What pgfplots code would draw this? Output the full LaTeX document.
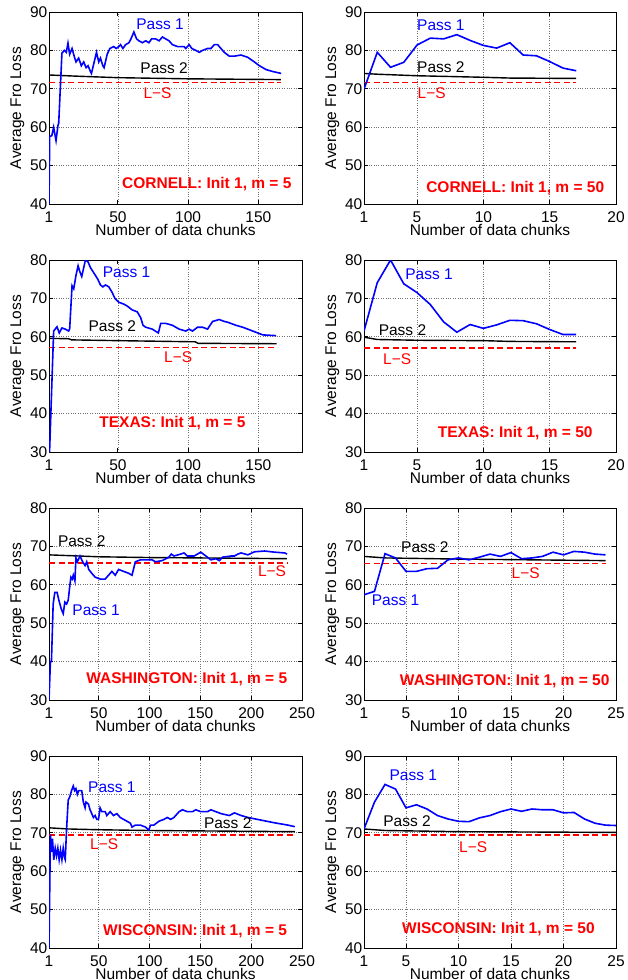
\documentclass[border=0pt]{standalone}
\usepackage{pgfplots}
\pgfplotsset{compat=1.18}
\usepackage{fontspec}
\setmainfont{Liberation Sans}
\newcommand{\fs}{\fontsize{15.5}{18}\selectfont}
\pgfplotsset{
  fro/.style={
    width=253pt, height=192pt, scale only axis, anchor=south west,
    axis line style={line width=0.8pt},
    tick align=inside, major tick length=4pt,
    every tick/.style={black, line width=0.8pt},
    grid=major, grid style={dotted, line width=0.7pt, black!55},
    ticklabel style={font=\fs},
    /pgf/number format/assume math mode=true,
    xlabel={Number of data chunks}, ylabel={Average Fro Loss},
    every axis y label/.style={at={(axis description cs:-0.125,0.5)}, rotate=90, anchor=center, font=\fs},
    every axis x label/.style={at={(axis description cs:0.5,0)}, anchor=base, yshift=-31.5pt, font=\fs, inner sep=0pt},
    xticklabel style={anchor=base, yshift=-18.5pt, inner sep=0pt},
    yticklabel style={anchor=east, inner sep=1.5pt},
    clip=true,
  },
  p1/.style={blue, line width=1.6pt},
  p2/.style={black, line width=1.4pt},
  ls/.style={red, line width=1.6pt, dash pattern=on 6pt off 3.5pt},
}
\tikzset{
  lab/.style={font=\fs},
  ann/.style={font=\fs\bfseries, red},
}
\begin{document}
\begin{tikzpicture}
\useasboundingbox (0,0) rectangle (627pt,-980pt);
% ---------- CORNELL m=5
\begin{axis}[fro, at={(49pt,-204pt)}, xmin=1, xmax=181, ymin=40, ymax=90,
  xtick={1,50,100,150}, ytick={40,50,...,90}]
\addplot[p2] coordinates {(1,73.6) (20,73.3) (50,72.9) (100,72.6) (166,72.4)};
\addplot[ls] coordinates {(1,71.6) (166,71.6)};
\addplot[p1] coordinates {(1,40) (1.5,57.6) (3,57.8) (4.3,60) (6,56.5) (7.4,60.5) (7.9,61) (10.2,79.3) (11.9,80) (13.3,79.5) (14.5,81.9) (15.7,79) (17.4,80.5) (19.3,78) (20.2,77) (22.1,78) (24,76) (25.7,77) (27.4,75.5) (28.8,76) (30.5,74.5) (31.2,74) (34.8,79.5) (36.4,77) (37.6,78) (39.3,76) (40.2,75.5) (42.4,79) (44.3,80.5) (47.1,81) (48.8,80.5) (50.7,81) (51.9,81.5) (53.6,80.5) (55.5,81.5) (57.9,82) (59.3,83) (61.4,84.8) (63.3,83) (65,82.5) (67.4,82) (69.8,82.5) (72.1,82) (74,83) (76.9,83) (79.3,82.5) (81.7,83.5) (84,83) (86.4,82.5) (88.8,81.5) (92.4,81) (97.1,81) (98.3,80.5) (100.7,81.5) (102.6,80.5) (105.5,80) (107.9,79.5) (110.2,80) (113.8,80.5) (116.2,80.5) (118.6,81.5) (121,81.5) (123.3,80.5) (125.7,79.5) (129.3,78.5) (132.9,78.5) (137.6,78.8) (142.4,78.2) (147.1,77) (150.7,76) (155.5,75) (160.2,74.5) (166.2,74)};
\node[lab, blue] at (axis cs:80,86.7) {Pass 1};
\node[lab] at (axis cs:82.9,75.4) {Pass 2};
\node[lab, red] at (axis cs:78.2,68.9) {L−S};
\node[ann] at (axis cs:113.3,45.1) {CORNELL: Init 1, m = 5};
\end{axis}
% ---------- CORNELL m=50
\begin{axis}[fro, at={(364pt,-204pt)}, width=252pt, xmin=1, xmax=20, ymin=40, ymax=90,
  xtick={1,5,10,15,20}, ytick={40,50,...,90}]
\addplot[p2] coordinates {(1,74.0) (2,73.8) (5,73.4) (10,73.0) (12,72.8) (17,72.7)};
\addplot[ls] coordinates {(1,71.6) (17,71.6)};
\addplot[p1] coordinates {(1,69.9) (2,79.5) (3,75.6) (4,76.9) (5,81.4) (6,83.2) (7,83.0) (8,84.1) (9,82.6) (10,81.3) (11,80.6) (12,82.0) (13,78.8) (14,78.6) (15,77.1) (16,75.4) (17,74.7)};
\node[lab, blue] at (axis cs:6.8,86.5) {Pass 1};
\node[lab] at (axis cs:6.8,75.6) {Pass 2};
\node[lab, red] at (axis cs:6.1,68.8) {L−S};
\node[ann] at (axis cs:12.4,44.1) {CORNELL: Init 1, m = 50};
\end{axis}
% ---------- TEXAS m=5
\begin{axis}[fro, at={(49pt,-452pt)}, xmin=1, xmax=181, ymin=30, ymax=80,
  xtick={1,50,100,150}, ytick={30,40,...,80}]
\addplot[p2] coordinates {(1,59.6) (15,59.5) (17,59.2) (50,59.0) (105,58.7) (107,58.3) (163,58.2)};
\addplot[ls] coordinates {(1,57.2) (163,57.2)};
\addplot[p1] coordinates {(1.4,30) (4.3,61.5) (6.7,62.6) (8.3,61) (10.2,62.3) (12.6,62) (15,61.5) (15.7,62) (17.4,73.3) (18.6,72.5) (20.2,76) (21.7,78.5) (22.9,77) (24.3,75.7) (26.9,80) (28.8,79.5) (30.5,78) (34,76) (35.7,75) (37.6,73.5) (39.3,73) (41.2,73.5) (43.6,73) (46,71.5) (47.9,70) (50.7,69) (54.3,68.5) (56.7,68) (60.2,67) (63.8,66.5) (66.2,65) (67.9,63) (69.8,62.5) (74.5,62) (78.8,61) (80.5,63.5) (84,63.5) (88.8,63) (93.6,62) (98.3,61.5) (100.7,62) (103.1,61.5) (106.7,62.5) (110.2,62.5) (113.8,62) (117.4,64) (122.1,64.5) (125.7,64) (128.1,63.8) (134,63) (138.8,62.5) (146,61.5) (153.1,60.5) (162.6,60.3)};
\node[lab, blue] at (axis cs:56.2,76.8) {Pass 1};
\node[lab] at (axis cs:46,62.8) {Pass 2};
\node[lab, red] at (axis cs:92.9,54.8) {L−S};
\node[ann] at (axis cs:88.8,37.6) {TEXAS: Init 1, m = 5};
\end{axis}
% ---------- TEXAS m=50
\begin{axis}[fro, at={(364pt,-452pt)}, width=252pt, xmin=1, xmax=20, ymin=30, ymax=80,
  xtick={1,5,10,15,20}, ytick={30,40,...,80}]
\addplot[p2] coordinates {(1,59.9) (2,59.3) (5,59.1) (10,59.0) (12,58.8) (17,58.7)};
\addplot[ls] coordinates {(1,57.1) (17,57.1)};
\addplot[p1] coordinates {(1,61.5) (2,74.1) (3,80.0) (4,73.8) (5,71.5) (6,68.4) (7,63.9) (8,61.2) (9,63.2) (10,62.2) (11,63.1) (12,64.3) (13,64.2) (14,63.4) (15,61.9) (16,60.6) (17,60.6)};
\node[lab, blue] at (axis cs:5.9,76.4) {Pass 1};
\node[lab] at (axis cs:3.9,61.7) {Pass 2};
\node[lab, red] at (axis cs:3.5,54.1) {L−S};
\node[ann] at (axis cs:12.4,35) {TEXAS: Init 1, m = 50};
\end{axis}
% ---------- WASHINGTON m=5
\begin{axis}[fro, at={(49pt,-700pt)}, xmin=1, xmax=250, ymin=30, ymax=80,
  xtick={1,50,100,150,200,250}, ytick={30,40,...,80}]
\addplot[p2] coordinates {(1,67.8) (50,67.3) (100,67.1) (150,67.0) (235,66.8)};
\addplot[ls] coordinates {(1,65.7) (235,65.7)};
\addplot[p1] coordinates {(1,30) (2.4,40) (3.4,40) (5.1,55) (6.7,58) (9,58) (10.7,56) (13.3,53.5) (15,52.5) (16.6,55.5) (18.3,55) (19.9,56) (21.6,60) (22.6,62) (23.9,61.5) (24.9,62.5) (26.5,61) (27.5,67) (28.9,66) (31.5,67.5) (34.1,66) (36.5,65) (38.1,66) (40.1,64) (43.1,63) (46.4,62) (51.3,61.5) (56.3,61.5) (59.6,62.5) (62.9,63.5) (66.2,62.5) (69.5,64) (74.4,63.5) (79.4,63) (82.7,62.5) (86,66) (91,66.5) (97.6,66.5) (102.5,66.5) (105.8,66) (112.4,66.3) (119,67.2) (121.4,68) (124,67.5) (130.6,68) (133.9,68.3) (137.2,67.5) (143.8,67.5) (150.4,68.5) (155.4,67.5) (160.3,66.5) (165.3,66.8) (168.6,66.3) (171.9,67.2) (180.2,67.5) (183.5,67.5) (186.8,68) (190.1,68.3) (196.7,67.8) (203.3,68.6) (213.2,68.8) (223.1,68.5) (233,68.3) (235.3,68)};
\node[lab] at (axis cs:33.2,71.3) {Pass 2};
\node[lab, blue] at (axis cs:47.4,53.3) {Pass 1};
\node[lab, red] at (axis cs:220.5,63.5) {L−S};
\node[ann] at (axis cs:136.6,35.4) {WASHINGTON: Init 1, m = 5};
\end{axis}
% ---------- WASHINGTON m=50
\begin{axis}[fro, at={(364pt,-700pt)}, width=252pt, xmin=1, xmax=25, ymin=30, ymax=80,
  xtick={1,5,10,15,20,25}, ytick={30,40,...,80}]
\addplot[p2] coordinates {(1,67.4) (3,67.0) (10,66.7) (24,66.3)};
\addplot[ls] coordinates {(1,65.5) (24,65.5)};
\addplot[p1] coordinates {(1,57.4) (2,58.3) (3,68.1) (4,67.0) (5,63.5) (6,63.5) (7,64.2) (8,64.3) (9,66.5) (10,67.0) (11,66.5) (12,67.2) (13,68.0) (14,67.4) (15,68.4) (16,66.8) (17,67.0) (18,67.4) (19,68.5) (20,67.8) (21,68.7) (22,68.5) (23,68.0) (24,67.8)};
\node[lab] at (axis cs:6.8,69.8) {Pass 2};
\node[lab, blue] at (axis cs:4,55.9) {Pass 1};
\node[lab, red] at (axis cs:16.4,63) {L−S};
\node[ann] at (axis cs:14.4,35) {WASHINGTON: Init 1, m = 50};
\end{axis}
% ---------- WISCONSIN m=5
\begin{axis}[fro, at={(49pt,-948pt)}, xmin=1, xmax=250, ymin=40, ymax=90,
  xtick={1,50,100,150,200,250}, ytick={40,50,...,90}]
\addplot[p2] coordinates {(1,71.3) (20,71.0) (50,70.8) (100,70.6) (243,70.3)};
\addplot[ls] coordinates {(1,69.4) (243,69.4)};
\addplot[p1] coordinates {(1,40) (2.4,69.6) (3.4,65) (4.4,68.5) (5.7,63) (7.1,66) (8.4,64) (9.7,66) (11,63) (12.3,65.5) (13.7,63) (15,66) (16.3,63.5) (17,63) (18.3,71) (19.9,78.5) (21.6,79.5) (23.2,81) (24.9,82.2) (26.2,81) (27.5,81.5) (28.9,80) (30.2,81) (33.2,81) (34.8,78) (36.5,76.5) (37.4,78) (39.8,77.5) (41.4,76) (43.1,75) (44.7,74) (46.4,74.5) (48,73.5) (49.7,73.5) (51.3,76.5) (53,75.5) (56.3,75.5) (57.9,74.5) (61.2,75.5) (64.5,74.5) (67.8,75) (71.1,74) (74.4,73.5) (77.8,73) (81.1,72.5) (82.7,71.5) (86,72) (91,72) (95.9,71.5) (99.2,70.7) (100.9,72) (104.2,72) (109.1,73) (114.1,73.5) (117.4,74) (120.7,73.5) (124,74) (129,75.5) (132.3,76) (137.2,75.5) (142.2,75.5) (145.5,76) (150.4,75.5) (157,75.5) (160.3,76) (165.3,75.5) (170.3,75) (178.5,74.5) (183.5,75.2) (190.1,74.5) (196.7,74) (209.9,73.3) (223.1,72.6) (236.3,72) (242.9,71.6)};
\node[lab, blue] at (axis cs:62.9,81.9) {Pass 1};
\node[lab] at (axis cs:176.9,72.6) {Pass 2};
\node[lab, red] at (axis cs:55.3,67) {L−S};
\node[ann] at (axis cs:144.8,44.3) {WISCONSIN: Init 1, m = 5};
\end{axis}
% ---------- WISCONSIN m=50
\begin{axis}[fro, at={(364pt,-948pt)}, width=252pt, xmin=1, xmax=25, ymin=40, ymax=90,
  xtick={1,5,10,15,20,25}, ytick={40,50,...,90}]
\addplot[p2] coordinates {(1,71.0) (3,70.6) (10,70.3) (25,70.1)};
\addplot[ls] coordinates {(1,69.4) (25,69.4)};
\addplot[p1] coordinates {(1,71.0) (2,78.0) (3,82.6) (4,81.4) (5,76.5) (6,77.3) (7,76.2) (8,74.5) (9,73.6) (10,73.0) (11,72.9) (12,73.9) (13,74.5) (14,75.5) (15,76.2) (16,75.6) (17,76.2) (18,76.0) (19,76.0) (20,75.2) (21,75.3) (22,73.6) (23,72.5) (24,72.0) (25,71.9)};
\node[lab, blue] at (axis cs:5.7,84.9) {Pass 1};
\node[lab] at (axis cs:5.1,73) {Pass 2};
\node[lab, red] at (axis cs:11.4,66.2) {L−S};
\node[ann] at (axis cs:13.8,44.8) {WISCONSIN: Init 1, m = 50};
\end{axis}
\end{tikzpicture}
\end{document}
